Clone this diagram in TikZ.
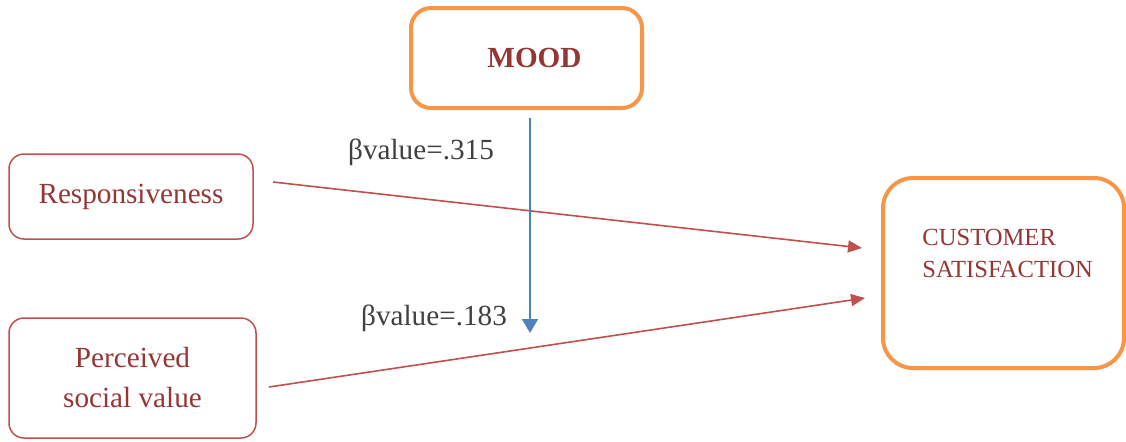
\documentclass[tikz,border=0pt]{standalone}
\usepackage{fontspec}
\setmainfont{Liberation Serif}
\usetikzlibrary{arrows.meta}
\definecolor{boxorange}{HTML}{F79646}
\definecolor{boxred}{HTML}{C0504D}
\definecolor{textred}{HTML}{943634}
\definecolor{linkblue}{HTML}{4F81BD}
\definecolor{valgray}{HTML}{404040}
\begin{document}
\begin{tikzpicture}[x=0.5pt, y=-0.5pt,
  bigbox/.style={draw=boxorange, line width=2pt, rounded corners=10pt, inner sep=0pt},
  smallbox/.style={draw=boxred, line width=0.75pt, rounded corners=7.5pt, inner sep=0pt,
    text=textred, align=center, font=\fontsize{14.6}{20}\selectfont},
  redlink/.style={draw=boxred, line width=0.8pt, -{Triangle[length=7pt, width=6pt]}},
  bluelink/.style={draw=linkblue, line width=0.8pt, -{Triangle[length=7pt, width=8pt]}},
  betalabel/.style={text=valgray, font=\fontsize{14.6}{17.5}\selectfont}]
\useasboundingbox (0,0) rectangle (1126,441);
\node[bigbox, minimum width=115.5pt, minimum height=50pt, text=textred,
  font=\fontsize{14.6}{17.5}\selectfont\bfseries] (mood) at (526.5,58) {\hspace*{8pt}MOOD};
\node[smallbox, minimum width=122pt, minimum height=42.5pt] (resp) at (131,196.5) {Responsiveness};
\node[smallbox, minimum width=123.5pt, minimum height=60pt] (psv) at (132.5,378) {Perceived\\social value};
\node[bigbox, rounded corners=15pt, minimum width=120.5pt, minimum height=95pt] (cs) at (1003.5,273) {};
\node[anchor=north west, inner sep=0pt, align=left, text=textred,
  font=\fontsize{12.3}{16}\selectfont] (cslabel) at (922,229) {CUSTOMER\\SATISFACTION};
\coordinate (r1) at (273,182);
\coordinate (r2) at (862,248);
\coordinate (p1) at (269,387);
\coordinate (p2) at (865,298);
\coordinate (m1) at (530,118);
\coordinate (m2) at (530,333);
\draw[redlink] (r1) -- (r2);
\draw[redlink] (p1) -- (p2);
\draw[bluelink] (m1) -- (m2);
\node[betalabel] (beta1) at (421,152) {βvalue=.315};
\node[betalabel] (beta2) at (434,318) {βvalue=.183};
\end{tikzpicture}
\end{document}
